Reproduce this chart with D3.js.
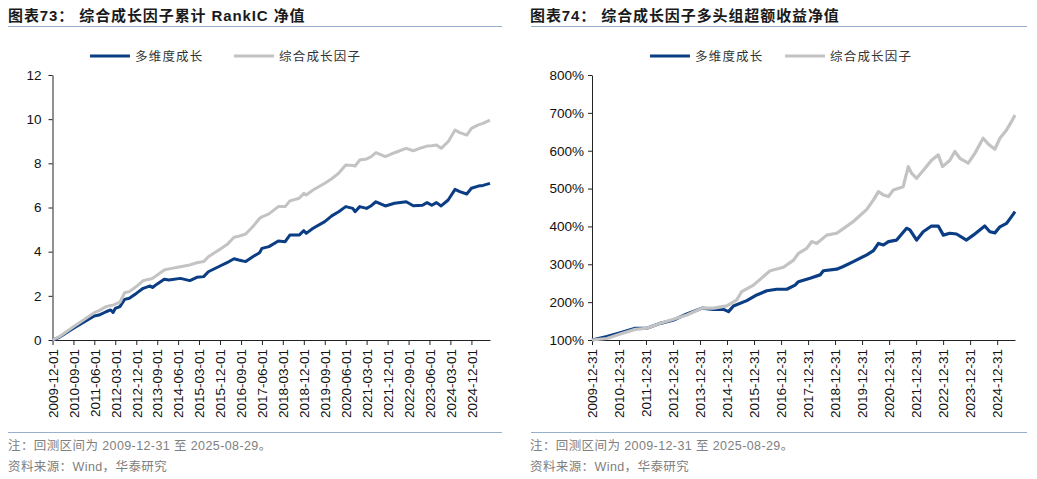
<!DOCTYPE html>
<html><head><meta charset="utf-8">
<script src="https://cdn.jsdelivr.net/npm/d3@7"></script>
<style>
html,body{margin:0;padding:0;background:#fff;}
svg{display:block;}
</style></head>
<body>
<svg id="c" width="1037" height="479"></svg>
<script>
// ---------- Chart 73 data (monthly, cumulative RankIC) ----------
const leftDates = ["2009-12","2010-03","2010-09","2011-01","2011-06","2011-08","2011-11","2012-01","2012-02","2012-03","2012-05","2012-07","2012-09","2012-12","2013-03","2013-06","2013-07","2013-09","2013-12","2014-02","2014-07","2014-11","2015-02","2015-05","2015-07","2015-12","2016-03","2016-06","2016-08","2016-11","2017-02","2017-05","2017-06","2017-09","2018-01","2018-04","2018-06","2018-10","2018-12","2019-01","2019-04","2019-09","2019-12","2020-03","2020-06","2020-09","2020-10","2020-12","2021-03","2021-05","2021-07","2021-11","2022-03","2022-08","2022-11","2023-03","2023-05","2023-07","2023-09","2023-11","2024-02","2024-05","2024-07","2024-10","2024-12","2025-03","2025-05","2025-08"];
const leftMulti = [0,0.12,0.53,0.78,1.09,1.13,1.28,1.36,1.25,1.43,1.51,1.84,1.89,2.11,2.34,2.45,2.38,2.54,2.75,2.72,2.79,2.69,2.84,2.87,3.09,3.35,3.50,3.68,3.62,3.55,3.77,3.95,4.15,4.23,4.48,4.45,4.75,4.75,4.95,4.83,5.06,5.36,5.62,5.81,6.04,5.96,5.81,6.04,5.96,6.08,6.26,6.07,6.19,6.26,6.08,6.10,6.22,6.10,6.22,6.07,6.34,6.82,6.72,6.61,6.87,6.97,7.00,7.09];
const leftComp  = [0,0.15,0.60,0.88,1.24,1.33,1.51,1.56,1.58,1.62,1.71,2.14,2.19,2.42,2.69,2.76,2.79,2.94,3.17,3.22,3.32,3.40,3.50,3.55,3.77,4.11,4.32,4.65,4.70,4.80,5.13,5.50,5.58,5.71,6.04,6.04,6.30,6.42,6.64,6.57,6.79,7.10,7.30,7.55,7.92,7.90,7.88,8.15,8.20,8.30,8.48,8.30,8.48,8.68,8.57,8.72,8.78,8.80,8.83,8.68,8.98,9.51,9.39,9.28,9.58,9.74,9.81,9.96];
const leftTicks = ["2009-12-01","2010-09-01","2011-06-01","2012-03-01","2012-12-01","2013-09-01","2014-06-01","2015-03-01","2015-12-01","2016-09-01","2017-06-01","2018-03-01","2018-12-01","2019-09-01","2020-06-01","2021-03-01","2021-12-01","2022-09-01","2023-06-01","2024-03-01","2024-12-01"];
const leftYTicks = [0,2,4,6,8,10,12];

// ---------- Chart 74 data (excess return NAV, %) ----------
const rMultiDates = ["2009-12-31","2010-07-20","2011-01-18","2011-08-08","2012-01-12","2012-07-12","2013-01-08","2013-07-06","2014-01-25","2014-07-01","2014-11-13","2015-01-20","2015-03-28","2015-09-24","2016-02-06","2016-06-21","2016-11-01","2017-03-18","2017-07-08","2017-08-23","2018-01-27","2018-06-11","2018-07-26","2019-01-22","2019-04-21","2019-09-04","2020-03-04","2020-06-02","2020-08-08","2020-10-15","2020-12-22","2021-04-12","2021-08-24","2021-10-08","2022-01-07","2022-04-05","2022-07-27","2022-10-26","2023-01-03","2023-04-01","2023-06-30","2023-11-12","2024-02-11","2024-07-16","2024-09-23","2024-11-30","2025-02-06","2025-05-07","2025-07-13","2025-08-29"];
const rMultiVals = [100,109,119,131,131,144,153,169,184,181,181,175,190,204,219,230,234,234,245,254,263,272,283,287,294,307,325,336,355,351,360,364,395,391,364,386,401,401,377,382,380,364,377,401,386,383,399,408,426,439];
const rCompDates = ["2009-12-31","2010-07-20","2011-01-18","2011-08-08","2012-01-12","2012-07-12","2013-01-08","2013-07-06","2014-01-25","2014-07-01","2014-12-28","2015-05-12","2015-07-18","2015-12-23","2016-08-05","2017-02-01","2017-06-18","2017-08-23","2017-12-12","2018-02-19","2018-04-27","2018-09-09","2019-01-22","2019-03-29","2019-09-04","2020-03-04","2020-06-02","2020-08-08","2020-10-15","2020-12-22","2021-02-26","2021-07-09","2021-09-16","2021-11-01","2022-01-07","2022-04-28","2022-07-27","2022-10-26","2022-12-24","2023-04-01","2023-06-08","2023-08-15","2023-12-05","2024-03-04","2024-06-24","2024-08-31","2024-11-30","2025-02-06","2025-05-07","2025-07-13","2025-08-29"];
const rCompVals = [100,104,116,128,131,144,155,166,184,184,190,206,228,245,283,292,311,329,342,360,355,377,382,391,413,445,470,492,483,479,496,505,558,540,527,553,575,589,558,575,598,580,567,593,633,618,604,633,655,677,694];
const rightTicks = ["2009-12-31","2010-12-31","2011-12-31","2012-12-31","2013-12-31","2014-12-31","2015-12-31","2016-12-31","2017-12-31","2018-12-31","2019-12-31","2020-12-31","2021-12-31","2022-12-31","2023-12-31","2024-12-31"];
const rightYTicks = [100,200,300,400,500,600,700,800];

const seriesNames = ["多维度成长","综合成长因子"];
const colors = ["#0a3d84","#c3c3c3"];

const svg = d3.select("#c");
const NUM = "'Liberation Sans', Arial, sans-serif";
const CJK = "'Liberation Sans', 'Noto Sans CJK SC', sans-serif";
const pm = d3.timeParse("%Y-%m");
const pd = d3.timeParse("%Y-%m-%d");

function frame(g, o){
  g.append("text").attr("x", o.tx).attr("y", 21)
    .attr("font-family", CJK).attr("font-weight", "bold").attr("font-size", 15).attr("fill", "#1a1a1a")
    .attr("letter-spacing", 0.9)
    .text(o.title);
  g.append("line").attr("x1", o.lx1).attr("x2", o.lx2).attr("y1", 26.5).attr("y2", 26.5)
    .attr("stroke", "#97afcc").attr("stroke-width", 1.2);
  seriesNames.forEach((n, i) => {
    const x0 = o.legX[i];
    g.append("line").attr("x1", x0).attr("x2", x0 + 40).attr("y1", 56).attr("y2", 56)
      .attr("stroke", colors[i]).attr("stroke-width", 3.2);
    g.append("text").attr("x", x0 + 45).attr("y", 60.5)
      .attr("font-family", CJK).attr("font-size", 12.5).attr("fill", "#333").attr("letter-spacing", 1.2)
      .text(n);
  });
  g.append("line").attr("x1", o.lx1).attr("x2", o.lx2).attr("y1", 432.5).attr("y2", 432.5)
    .attr("stroke", "#97afcc").attr("stroke-width", 1.2);
  g.append("text").attr("x", o.tx).attr("y", 450)
    .attr("font-family", CJK).attr("font-size", 12.5).attr("fill", "#808080").attr("letter-spacing", 0.4)
    .text("注：回测区间为 2009-12-31 至 2025-08-29。");
  g.append("text").attr("x", o.tx).attr("y", 471)
    .attr("font-family", CJK).attr("font-size", 12.5).attr("fill", "#808080").attr("letter-spacing", 0.4)
    .text("资料来源：Wind，华泰研究");
}

function axes(g, x, y, o){
  const xa = d3.axisBottom(x).tickValues(o.xTicks).tickSize(5).tickSizeOuter(0)
    .tickFormat(d3.timeFormat("%Y-%m-%d"));
  const gx = g.append("g").attr("transform", `translate(0,${y.range()[0]})`).call(xa);
  gx.select(".domain").attr("stroke", "#222");
  gx.selectAll(".tick line").attr("stroke", "#222");
  gx.selectAll(".tick text").attr("font-family", NUM).attr("font-size", 13.5).attr("fill", "#111")
    .attr("transform", "rotate(-90)").attr("text-anchor", "end")
    .attr("x", -9).attr("y", 0).attr("dy", "0.35em");
  const ya = d3.axisLeft(y).tickValues(o.yTicks).tickSize(4).tickSizeOuter(0).tickFormat(o.yFmt);
  const gy = g.append("g").attr("transform", `translate(${x.range()[0]},0)`).call(ya);
  gy.select(".domain").attr("stroke", "#222");
  gy.selectAll(".tick line").attr("stroke", "#222");
  gy.selectAll(".tick text").attr("font-family", NUM).attr("font-size", 13.5).attr("fill", "#111")
    .attr("x", o.yLabX);
}

// ---------- Left chart ----------
{
  const g = svg.append("g");
  frame(g, {tx: 8, title: "图表73：  综合成长因子累计 RankIC 净值", lx1: 8, lx2: 502, legX: [90, 234]});
  const x = d3.scaleTime().domain([pm("2009-12"), pm("2025-08")]).range([52.5, 490]);
  const y = d3.scaleLinear().domain([0, 12]).range([340, 75]);
  axes(g, x, y, {xTicks: leftTicks.map(pd), yTicks: leftYTicks, yFmt: d3.format("d"), yLabX: -11});
  const line = d3.line().x(d => x(d[0])).y(d => y(d[1]));
  [leftMulti, leftComp].forEach((vals, i) => {
    const pts = leftDates.map((d, k) => [pm(d), vals[k]]);
    g.append("path").attr("d", line(pts)).attr("fill", "none")
      .attr("stroke", colors[i]).attr("stroke-width", 3).attr("stroke-linejoin", "round");
  });
}

// ---------- Right chart ----------
{
  const g = svg.append("g");
  frame(g, {tx: 530, title: "图表74：  综合成长因子多头组超额收益净值", lx1: 531, lx2: 1027, legX: [650, 785]});
  const x = d3.scaleTime().domain([pd("2009-12-31"), pd("2025-08-29")]).range([592, 1015]);
  const y = d3.scaleLinear().domain([100, 800]).range([340, 75]);
  axes(g, x, y, {xTicks: rightTicks.map(pd), yTicks: rightYTicks, yFmt: d => d + "%", yLabX: -8});
  const line = d3.line().x(d => x(d[0])).y(d => y(d[1]));
  [[rMultiDates, rMultiVals], [rCompDates, rCompVals]].forEach(([ds, vs], i) => {
    const pts = ds.map((d, k) => [pd(d), vs[k]]);
    g.append("path").attr("d", line(pts)).attr("fill", "none")
      .attr("stroke", colors[i]).attr("stroke-width", 3.2).attr("stroke-linejoin", "round");
  });
}
</script>
</body></html>
